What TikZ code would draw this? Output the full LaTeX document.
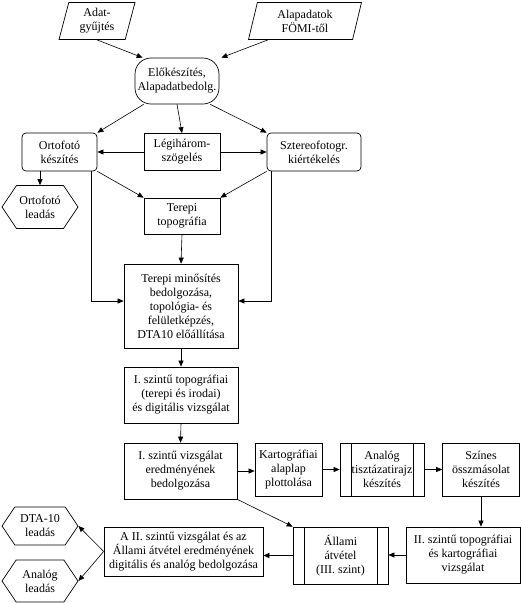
\documentclass[tikz,border=0pt]{standalone}
\usepackage{fontspec}
\setmainfont{Liberation Serif}
\usetikzlibrary{shapes.geometric, shapes.symbols, arrows.meta, positioning}

\begin{document}
\begin{tikzpicture}[
      x=1pt, y=-1pt,
      font=\fontsize{12}{14}\selectfont,
      every node/.style={align=center, inner sep=1pt},
      box/.style = {shape=rectangle, draw, line width=0.7pt},
      rbox/.style = {box, rounded corners=4pt},
      start/.style = {box, rounded corners=16pt},
      input/.style = {shape=trapezium, draw, line width=0.7pt,
        trapezium left angle=70, trapezium right angle=110,
        trapezium stretches body},
      output/.style = {shape=signal, draw, line width=0.7pt,
        signal to=west and east, signal pointer angle=112},
      subproc/.style = {box, path picture={
          \draw[line width=0.7pt] ([xshift=11pt]path picture bounding box.north west)
            -- ([xshift=11pt]path picture bounding box.south west);
          \draw[line width=0.7pt] ([xshift=-11pt]path picture bounding box.north east)
            -- ([xshift=-11pt]path picture bounding box.south east);
        }},
      arr/.style = {-{Triangle[length=6pt,width=5pt]}, line width=0.6pt}
    ]
    \useasboundingbox (0,0) rectangle (521,603);

    % inputs and preparation
    \node[input, minimum width=76pt, minimum height=37pt] (adat) at (97,21) {Adat-\\gyűjtés};
    \node[input, minimum width=113pt, minimum height=37pt] (alap) at (305,21) {Alapadatok\\FÖMI-től};
    \node[start, minimum width=84pt, minimum height=46pt] (elok) at (177,81) {Előkészítés,\\Alapadatbedolg.};

    \node[rbox, minimum width=75pt, minimum height=38pt] (orto) at (59.5,152) {Ortofotó\\készítés};
    \node[box, minimum width=76pt, minimum height=37pt] (legi) at (182,152) {Légihárom-\\szögelés};
    \node[rbox, minimum width=94pt, minimum height=38pt] (szter) at (314,152) {Sztereofotogr.\\kiértékelés};
    \node[output, minimum width=76pt, minimum height=43pt] (olead) at (40,207) {Ortofotó\\leadás};
    \node[box, minimum width=76pt, minimum height=36pt] (tertop) at (182,216) {Terepi\\topográfia};

    \node[box, minimum width=114pt, minimum height=84pt] (termin) at (181,306)
      {Terepi minősítés\\bedolgozása,\\topológia- és\\felületképzés,\\DTA10 előállítása};
    \node[box, minimum width=114pt, minimum height=56pt] (iszt) at (181,395)
      {I. szintű topográfiai\\(terepi és irodai)\\és digitális vizsgálat};

    % second row of processing
    \node[box, minimum width=113pt, minimum height=56pt] (ivizs) at (180.5,471)
      {I. szintű vizsgálat\\eredményének\\bedolgozása};
    \node[box, minimum width=67pt, minimum height=53pt] (kart) at (288.5,469.5) {Kartográfiai\\alaplap\\plottolása};
    \node[subproc, minimum width=84pt, minimum height=53pt] (analog) at (382,469.5) {Analóg\\tisztázatirajz\\készítés};
    \node[box, minimum width=77pt, minimum height=53pt] (szines) at (481,469.5) {Színes\\összmásolat\\készítés};

    % control and delivery
    \node[box, minimum width=114pt, minimum height=56pt] (iiszt) at (463,555)
      {II. szintű topográfiai\\és kartográfiai\\vizsgálat};
    \node[subproc, minimum width=95pt, minimum height=57pt] (allami) at (340.5,555.5) {Állami\\átvétel\\(III. szint)};
    \node[box, minimum width=159pt, minimum height=49pt] (aii) at (183.5,551.5)
      {A II. szintű vizsgálat és az\\Állami átvétel eredményének\\digitális és analóg bedolgozása};
    \node[output, minimum width=76pt, minimum height=38pt] (dta) at (40,526) {DTA-10\\leadás};
    \node[output, minimum width=76pt, minimum height=42pt] (alead) at (40,581) {Analóg\\leadás};

    \draw[arr] (adat.south) -- ([xshift=8pt]elok.north west);
    \draw[arr] ([xshift=-37pt]alap.south) -- ([xshift=2pt]elok.north east);
    \draw[arr] ([xshift=9pt]elok.south west) -- (orto.north east);
    \draw[arr] (elok.south) -- (legi.north);
    \draw[arr] ([xshift=-9pt]elok.south east) -- (szter.north west);
    \draw[arr] (legi.west) -- (orto.east);
    \draw[arr] (legi.east) -- (szter.west);
    \draw[arr] (orto.south -| olead.north) -- (olead.north);
    \draw[arr] (orto.south east) -- (tertop.north west);
    \draw[arr] (szter.south west) -- (tertop.north east);
    \draw[arr] (tertop.south) -- (termin.north);
    \draw[arr] ([xshift=-6pt]orto.south east) |- ([yshift=5pt]termin.west);
    \draw[arr] ([xshift=5pt]szter.south west) |- ([yshift=5pt]termin.east);
    \draw[arr] (termin.south) -- (iszt.north);
    \draw[arr] (iszt.south) -- (ivizs.north);
    \draw[arr] (ivizs.east) -- (ivizs.east -| kart.west);
    \draw[arr] (kart.east) -- (analog.west);
    \draw[arr] (analog.east) -- (szines.west);
    \draw[arr] (szines.south) -- (szines.south |- iiszt.north);
    \draw[arr] (iiszt.west) -- (iiszt.west -| allami.east);
    \draw[arr] (ivizs.south east) -- (allami.north west);
    \draw[arr] (allami.west) -- (allami.west -| aii.east);
    \draw[arr] (aii.west) -- (dta.east);
    \draw[arr] (aii.west) -- (alead.east);
\end{tikzpicture}
\end{document}
